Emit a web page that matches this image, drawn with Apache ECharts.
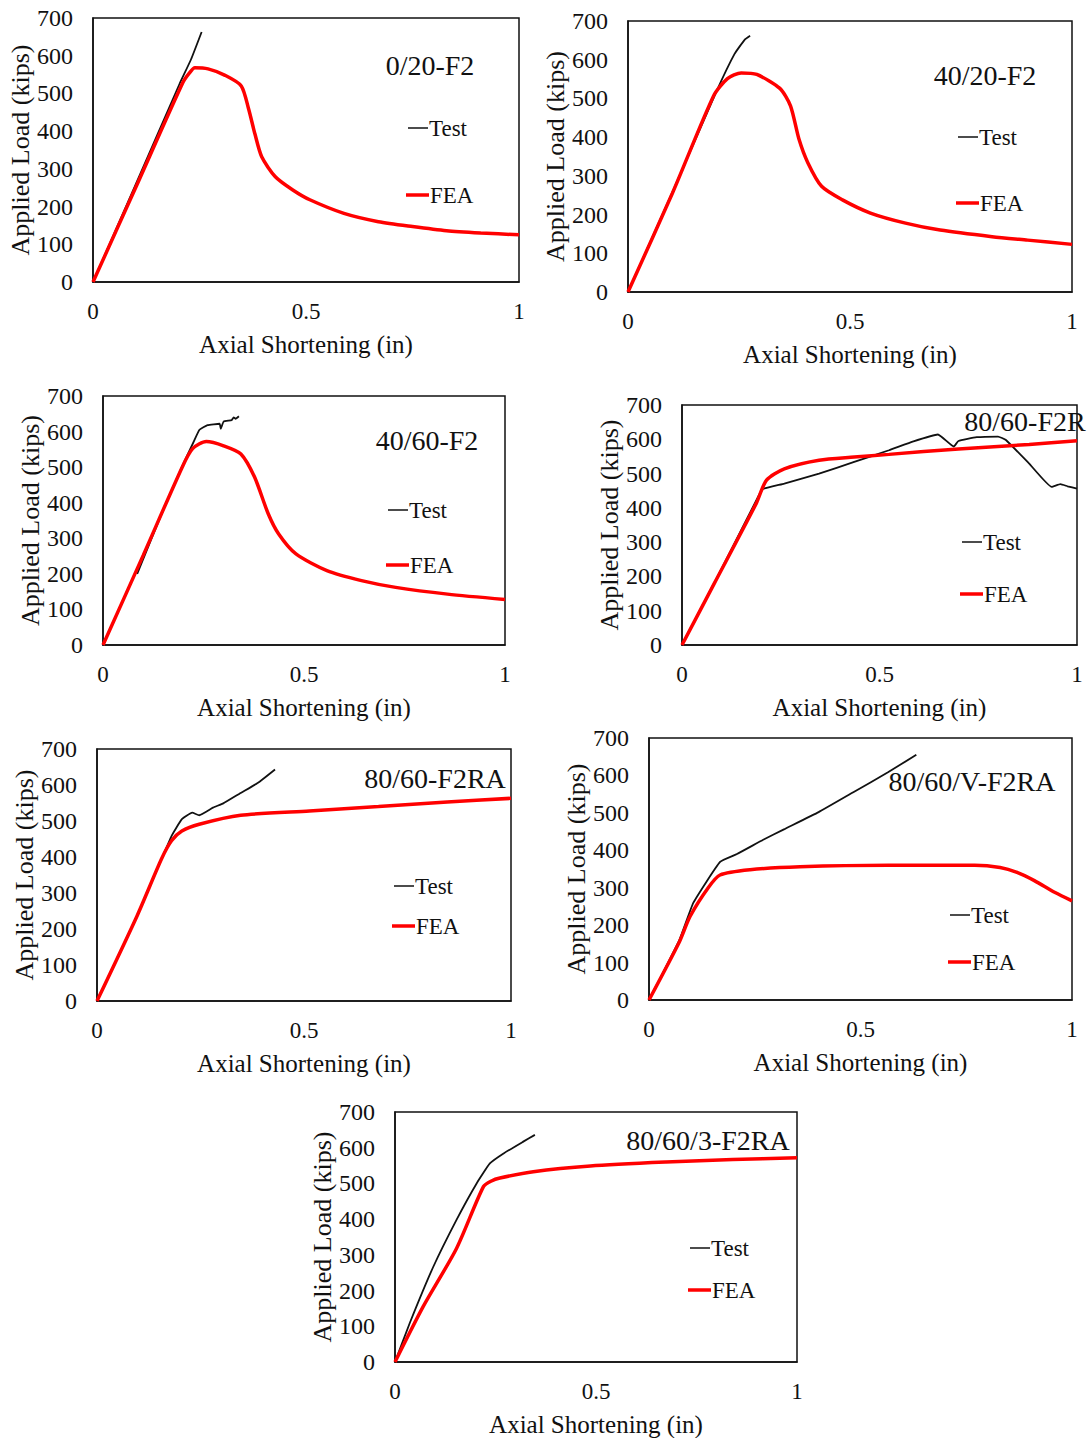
<!DOCTYPE html>
<html>
<head>
<meta charset="utf-8">
<script src="https://cdn.jsdelivr.net/npm/echarts@6/dist/echarts.min.js"></script>
<style>
html, body { margin: 0; padding: 0; background: #fff; }
#main { width: 1087px; height: 1438px; }
</style>
</head>
<body>
<div id="main"></div>
<script>
// tick labels
var xTicks = [0, 0.5, 1];
var yTicks = [0, 100, 200, 300, 400, 500, 600, 700];

var specimens = ['0/20-F2', '40/20-F2', '40/60-F2', '80/60-F2R', '80/60-F2RA', '80/60/V-F2RA', '80/60/3-F2RA'];

// [axial shortening (in), load (kips)]
var test_0_20 = [[0, 0], [0.1, 258], [0.203, 525], [0.23, 590], [0.255, 663]];
var fea_0_20 = [[0, 0], [0.1, 250], [0.211, 529], [0.227, 555], [0.239, 568], [0.27, 565], [0.31, 548], [0.348, 520],
  [0.365, 460], [0.38, 393], [0.396, 332], [0.428, 279], [0.469, 244], [0.509, 218], [0.589, 182], [0.67, 160],
  [0.75, 147], [0.83, 136], [0.91, 130], [1.0, 125]];

var test_40_20 = [[0, 0], [0.1, 258], [0.2, 520], [0.24, 615], [0.263, 652], [0.275, 662]];
var fea_40_20 = [[0, 0], [0.1, 255], [0.193, 507], [0.224, 551], [0.255, 566], [0.29, 562], [0.342, 526], [0.366, 481],
  [0.385, 395], [0.405, 334], [0.436, 273], [0.483, 238], [0.546, 204], [0.625, 178], [0.703, 160], [0.82, 143],
  [0.9, 134], [1.0, 123]];

var test_40_60 = [[0.085, 200], [0.15, 380], [0.2, 510], [0.225, 570], [0.24, 605], [0.26, 618], [0.29, 622],
  [0.293, 608], [0.3, 628], [0.32, 632], [0.325, 640], [0.33, 636], [0.338, 643]];
var fea_40_60 = [[0, 0], [0.1, 252], [0.197, 500], [0.223, 552], [0.257, 572], [0.3, 560], [0.343, 537], [0.377, 472],
  [0.411, 369], [0.437, 312], [0.48, 256], [0.557, 209], [0.643, 181], [0.728, 162], [0.857, 143], [1.0, 128]];

var test_80_60_R = [[0, 0], [0.1, 222], [0.197, 442], [0.205, 455], [0.259, 471], [0.347, 500], [0.436, 534],
  [0.524, 568], [0.586, 594], [0.648, 614], [0.688, 579], [0.7, 595], [0.746, 606], [0.8, 608], [0.82, 598],
  [0.879, 529], [0.936, 461], [0.958, 469], [0.976, 463], [1.0, 456]];
var fea_80_60_R = [[0, 0], [0.0815, 179], [0.188, 413], [0.214, 481], [0.259, 514], [0.347, 539], [0.436, 548],
  [0.524, 556], [0.7, 572], [0.879, 585], [1.0, 596]];

var test_80_60_RA = [[0, 0], [0.097, 237], [0.18, 458], [0.205, 505], [0.23, 523], [0.247, 516], [0.28, 537],
  [0.305, 549], [0.347, 578], [0.389, 606], [0.43, 643]];
var fea_80_60_RA = [[0, 0], [0.097, 237], [0.156, 395], [0.18, 445], [0.205, 472], [0.247, 491], [0.347, 516],
  [0.513, 528], [0.68, 540], [0.846, 553], [1.0, 563]];

var test_80_60_V = [[0, 0], [0.0717, 160], [0.105, 260], [0.168, 369], [0.208, 390], [0.27, 428], [0.319, 456],
  [0.401, 502], [0.483, 555], [0.566, 609], [0.632, 655]];
var fea_80_60_V = [[0, 0], [0.0717, 155], [0.097, 223], [0.14, 300], [0.168, 334], [0.239, 348], [0.357, 356],
  [0.566, 360], [0.77, 360], [0.83, 354], [0.87, 341], [0.911, 319], [0.96, 287], [1.0, 265]];

var test_80_60_3 = [[0, 0], [0.037, 110], [0.095, 266], [0.153, 398], [0.203, 500], [0.236, 556], [0.27, 584],
  [0.319, 617], [0.348, 636]];
var fea_80_60_3 = [[0, 0], [0.07, 155], [0.153, 318], [0.22, 491], [0.24, 507], [0.261, 515], [0.344, 533],
  [0.486, 549], [0.674, 560], [0.84, 567], [1.0, 572]];

var tests = [test_0_20, test_40_20, test_40_60, test_80_60_R, test_80_60_RA, test_80_60_V, test_80_60_3];
var feas = [fea_0_20, fea_40_20, fea_40_60, fea_80_60_R, fea_80_60_RA, fea_80_60_V, fea_80_60_3];

// layout: plot box [left, top, width, height], title centre, legend [lineX, testY, feaY]
var boxes = [[93, 18, 426, 264], [628, 21, 444, 271], [103, 396, 402, 249], [682, 405, 395, 240],
  [97, 749, 414, 252], [649, 738, 423, 262], [395, 1112, 402, 250]];
var titleAt = [[430, 65], [985, 75], [427, 440], [1025, 421], [435, 778], [972, 781], [708, 1140]];
var legendAt = [[408, 128, 195], [958, 137, 203], [388, 510, 565], [962, 542, 594],
  [394, 886, 926], [950, 915, 962], [690, 1248, 1290]];

var FONT = '"Liberation Serif", "Times New Roman", serif';
var INK = '#111';

var grid = [], xAxis = [], yAxis = [], series = [], graphic = [];
for (var i = 0; i < specimens.length; i++) {
  var b = boxes[i];
  grid.push({
    left: b[0], top: b[1], width: b[2], height: b[3],
    show: true, borderColor: INK, borderWidth: 1.5, backgroundColor: 'transparent'
  });
  xAxis.push({
    type: 'value', gridIndex: i, min: xTicks[0], max: xTicks[xTicks.length - 1], interval: 0.5,
    name: 'Axial Shortening (in)', nameLocation: 'middle', nameGap: 50,
    nameTextStyle: { color: INK, fontFamily: FONT, fontSize: 25 },
    axisLine: { lineStyle: { color: INK, width: 1.5 } },
    axisTick: { show: false }, splitLine: { show: false },
    axisLabel: { color: INK, fontFamily: FONT, fontSize: 23, margin: 18 }
  });
  yAxis.push({
    type: 'value', gridIndex: i, min: yTicks[0], max: yTicks[yTicks.length - 1], interval: 100,
    name: 'Applied Load (kips)', nameLocation: 'middle', nameGap: 58, nameRotate: 90,
    nameTextStyle: { color: INK, fontFamily: FONT, fontSize: 26 },
    axisLine: { lineStyle: { color: INK, width: 1.5 } },
    axisTick: { show: false }, splitLine: { show: false },
    axisLabel: { color: INK, fontFamily: FONT, fontSize: 24, margin: 20 }
  });
  series.push({
    name: 'Test', type: 'line', xAxisIndex: i, yAxisIndex: i, data: tests[i],
    showSymbol: false, symbol: 'none', smooth: 0.12, z: 2,
    lineStyle: { color: INK, width: 1.8 }
  });
  series.push({
    name: 'FEA', type: 'line', xAxisIndex: i, yAxisIndex: i, data: feas[i],
    showSymbol: false, symbol: 'none', smooth: 0.25, z: 3,
    lineStyle: { color: '#ff0000', width: 3.5 }
  });

  var t = titleAt[i], lg = legendAt[i];
  graphic.push({
    type: 'text', x: t[0], y: t[1], z: 10,
    style: { text: specimens[i], font: '28px ' + FONT, fill: INK, align: 'center', verticalAlign: 'middle' }
  });
  graphic.push({
    type: 'line', shape: { x1: lg[0], y1: lg[1], x2: lg[0] + 20, y2: lg[1] },
    style: { stroke: INK, lineWidth: 1.5 }, z: 10
  });
  graphic.push({
    type: 'text', x: lg[0] + 21, y: lg[1], z: 10,
    style: { text: 'Test', font: '23px ' + FONT, fill: INK, align: 'left', verticalAlign: 'middle' }
  });
  graphic.push({
    type: 'line', shape: { x1: lg[0] - 2, y1: lg[2], x2: lg[0] + 21, y2: lg[2] },
    style: { stroke: '#ff0000', lineWidth: 3.5 }, z: 10
  });
  graphic.push({
    type: 'text', x: lg[0] + 22, y: lg[2], z: 10,
    style: { text: 'FEA', font: '23px ' + FONT, fill: INK, align: 'left', verticalAlign: 'middle' }
  });
}

var chart = echarts.init(document.getElementById('main'), null, { renderer: 'svg' });
chart.setOption({
  backgroundColor: '#fff',
  animation: false,
  grid: grid,
  xAxis: xAxis,
  yAxis: yAxis,
  series: series,
  graphic: graphic
});
</script>
</body>
</html>
